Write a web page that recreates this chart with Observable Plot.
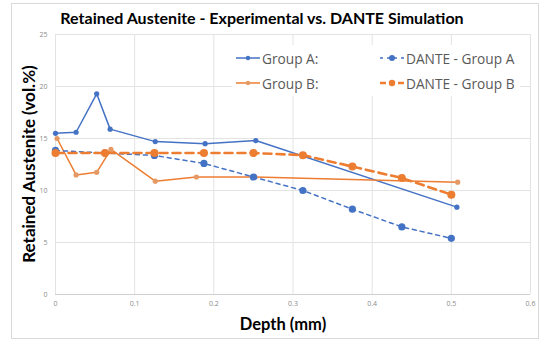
<!DOCTYPE html>
<html><head><meta charset="utf-8">
<script src="https://cdn.jsdelivr.net/npm/d3@7"></script>
<script src="https://cdn.jsdelivr.net/npm/@observablehq/plot@0.6"></script>
<style>
html,body{margin:0;padding:0;background:#fff;}
#wrap{position:relative;width:549px;height:357px;overflow:hidden;font-family:"Open Sans",sans-serif;}
#frame{position:absolute;left:11px;top:3px;width:528px;height:336px;border:1px solid #d9d9d9;box-sizing:border-box;}
#title{position:absolute;left:0;width:524px;top:8px;text-align:center;font-family:Lato,sans-serif;font-weight:bold;font-size:16px;color:#000;}
#ylab{position:absolute;left:28px;top:164px;transform:translate(-50%,-50%) rotate(-90deg);white-space:nowrap;font-family:Lato,sans-serif;font-weight:bold;font-size:17px;color:#000;}
#xlab{position:absolute;left:0;width:566px;top:314px;text-align:center;font-family:Lato,sans-serif;font-weight:bold;font-size:16.5px;color:#000;}
#legend{position:absolute;left:232px;top:45px;width:288px;height:51px;background:#fff;}
.li{position:absolute;display:flex;align-items:center;font-size:13.7px;color:#595959;white-space:nowrap;}
.li svg{margin-right:2px;}
#plot{position:absolute;left:0;top:0;}
</style>
</head><body>
<div id="wrap">
<div id="frame"></div>
<div id="plot"></div>
<div id="title">Retained Austenite - Experimental vs. DANTE Simulation</div>
<div id="ylab">Retained Austenite (vol.%)</div>
<div id="xlab">Depth (mm)</div>
<div id="legend"></div>
</div>
<script>
const depthA = [0, 0.026, 0.052, 0.069, 0.126, 0.189, 0.253, 0.507];
const groupA = [15.5, 15.6, 19.3, 15.9, 14.7, 14.5, 14.8, 8.4];
const depthB = [0.002, 0.026, 0.052, 0.070, 0.126, 0.178, 0.252, 0.508];
const groupB = [15.0, 11.5, 11.75, 13.95, 10.9, 11.3, 11.3, 10.8];
const depthDante = [0, 0.0625, 0.125, 0.1875, 0.25, 0.3125, 0.375, 0.4375, 0.5];
const danteA = [13.85, 13.6, 13.37, 12.6, 11.3, 10.0, 8.2, 6.5, 5.4];
const danteB = [13.6, 13.6, 13.6, 13.6, 13.6, 13.4, 12.3, 11.2, 9.6];
const xTicks = [0, 0.1, 0.2, 0.3, 0.4, 0.5, 0.6];
const yTicks = [0, 5, 10, 15, 20, 25];
const seriesNames = ["Group A:", "Group B:", "DANTE - Group A", "DANTE - Group B"];

const blue = "#4472C4", orange = "#ED7D31";
const rows = (xs, ys) => xs.map((x, i) => ({x, y: ys[i]}));
const sA = rows(depthA, groupA), sB = rows(depthB, groupB);
const dA = rows(depthDante, danteA), dB = rows(depthDante, danteB);

const chart = Plot.plot({
  width: 549, height: 357,
  marginLeft: 55, marginRight: 19, marginTop: 34, marginBottom: 63,
  style: {background: "transparent", fontFamily: "Open Sans, sans-serif"},
  x: {domain: [0, 0.6]},
  y: {domain: [0, 25]},
  marks: [
    Plot.gridX(xTicks, {stroke: "#e3e3e3", strokeOpacity: 1}),
    Plot.gridY(yTicks, {stroke: "#e3e3e3", strokeOpacity: 1}),
    Plot.ruleY([0], {stroke: "#d0d0d0"}),
    Plot.axisX(xTicks, {tickSize: 0, tickPadding: 7, fontSize: 7, fill: "#8c8c8c", label: null, tickFormat: d => String(d)}),
    Plot.axisY(yTicks, {tickSize: 0, tickPadding: 8, fontSize: 7, fill: "#8c8c8c", label: null}),
    Plot.line(sA, {x: "x", y: "y", stroke: blue, strokeWidth: 1.5}),
    Plot.dot(sA, {x: "x", y: "y", fill: blue, r: 2.6}),
    Plot.line(sB, {x: "x", y: "y", stroke: orange, strokeWidth: 1.5}),
    Plot.dot(sB, {x: "x", y: "y", fill: "#e59a66", r: 2.6}),
    Plot.line(dA, {x: "x", y: "y", stroke: blue, strokeWidth: 1.5, strokeDasharray: "4,4"}),
    Plot.dot(dA, {x: "x", y: "y", fill: blue, r: 3.6}),
    Plot.line(dB, {x: "x", y: "y", stroke: orange, strokeWidth: 2.6, strokeDasharray: "8,5"}),
    Plot.dot(dB, {x: "x", y: "y", fill: orange, r: 4})
  ]
});
document.getElementById("plot").appendChild(chart);

const leg = document.getElementById("legend");
const styles = [
  {col: 0, row: 0, stroke: blue, w: 1.5, dash: null, r: 2.2, fill: blue},
  {col: 0, row: 1, stroke: orange, w: 1.5, dash: null, r: 2.2, fill: "#e59a66"},
  {col: 1, row: 0, stroke: blue, w: 1.5, dash: "3,4", r: 3, fill: blue},
  {col: 1, row: 1, stroke: orange, w: 2.4, dash: "6,3", r: 3.2, fill: orange}
];
seriesNames.forEach((name, i) => {
  const s = styles[i];
  const div = document.createElement("div");
  div.className = "li";
  div.style.left = (s.col === 0 ? 4 : 148) + "px";
  div.style.top = (s.row === 0 ? 3 : 28) + "px";
  div.style.height = "20px";
  div.innerHTML = `<svg width="24" height="10"><line x1="0" x2="24" y1="5" y2="5" stroke="${s.stroke}" stroke-width="${s.w}" ${s.dash ? `stroke-dasharray="${s.dash}"` : ""}/><circle cx="12" cy="5" r="${s.r}" fill="${s.fill}"/></svg><span>${name}</span>`;
  leg.appendChild(div);
});
</script>
</body></html>
